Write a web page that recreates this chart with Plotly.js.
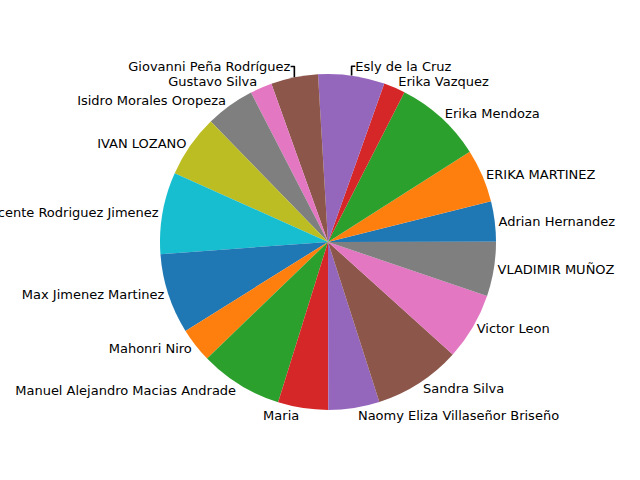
<!DOCTYPE html>
<html>
<head>
<meta charset="utf-8">
<script src="https://cdn.plot.ly/plotly-3.0.1.min.js"></script>
<style>body{margin:0}</style>
</head>
<body>
<div id="chart" style="width:640px;height:480px"></div>
<script>
// Names, counterclockwise from 3 o'clock
let names = [
    'Adrian Hernandez', 'ERIKA MARTINEZ', 'Erika Mendoza', 'Erika Vazquez',
    'Esly de la Cruz', 'Giovanni Peña Rodríguez', 'Gustavo Silva',
    'Isidro Morales Oropeza', 'IVAN LOZANO', 'Vicente Rodriguez Jimenez',
    'Max Jimenez Martinez', 'Mahonri Niro', 'Manuel Alejandro Macias Andrade',
    'Maria', 'Naomy Eliza Villaseñor Briseño', 'Sandra Silva', 'Victor Leon',
    'VLADIMIR MUÑOZ'
];
// Slice sizes (degrees)
let values = [14, 18.5, 30.5, 7.5, 23, 16.3, 7.6, 17, 21.6, 28.4, 27.8, 12, 28.8, 17.4, 17.7, 30.2, 23.3, 18.8];

let tab10 = ['#1f77b4', '#ff7f0e', '#2ca02c', '#d62728', '#9467bd',
    '#8c564b', '#e377c2', '#7f7f7f', '#bcbd22', '#17becf'];
let colors = names.map((n, i) => tab10[i % 10]);

let trace = {
    type: 'pie',
    labels: names,
    values: values,
    sort: false,
    direction: 'counterclockwise',
    rotation: 76,
    marker: { colors: colors, line: { width: 0 } },
    textinfo: 'label',
    textposition: 'outside',
    automargin: false,
    hoverinfo: 'none',
    outsidetextfont: { color: 'black', size: 13 },
    domain: { x: [0.25, 0.775], y: [0.146, 0.846] }
};

let layout = {
    width: 640,
    height: 480,
    margin: { l: 0, r: 0, t: 0, b: 0 },
    showlegend: false,
    font: { family: 'DejaVu Sans', size: 13, color: 'black' },
    paper_bgcolor: 'white'
};

Plotly.newPlot('chart', [trace], layout, { displayModeBar: false });
</script>
</body>
</html>
